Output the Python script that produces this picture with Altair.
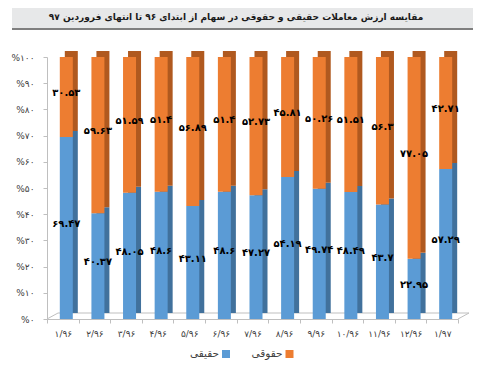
import altair as alt
import pandas as pd

categories = ["۱/۹۶", "۲/۹۶", "۳/۹۶", "۴/۹۶", "۵/۹۶", "۶/۹۶", "۷/۹۶",
              "۸/۹۶", "۹/۹۶", "۱۰/۹۶", "۱۱/۹۶", "۱۲/۹۶", "۱/۹۷"]
haghighi = [69.47, 40.37, 48.05, 48.6, 43.11, 48.6, 47.27, 54.19, 49.74, 48.49, 43.7, 22.95, 57.29]
hoghoghi = [30.53, 59.63, 51.59, 51.4, 56.89, 51.4, 52.73, 45.81, 50.26, 51.51, 56.3, 77.05, 42.71]
series = ["حقیقی", "حقوقی"]
y_tick_labels = ["%۰", "%۱۰", "%۲۰", "%۳۰", "%۴۰", "%۵۰", "%۶۰", "%۷۰", "%۸۰", "%۹۰", "%۱۰۰"]
title_text = "مقایسه ارزش معاملات حقیقی و حقوقی در سهام از ابتدای ۹۶ تا انتهای فروردین ۹۷"

FONT = "DejaVu Sans"
LIGHT = ["#5B9BD5", "#ED7D31"]
DARK = ["#41719C", "#B0591F"]
fa = str.maketrans("0123456789", "۰۱۲۳۴۵۶۷۸۹")
rows = []
for i, c in enumerate(categories):
    for o, (s, vals) in enumerate(((series[0], haghighi), (series[1], hoghoghi))):
        v = vals[i]
        rows.append({"cat": c, "series": s, "value": v, "ord": o,
                     "label": f"{v:g}".translate(fa)})
df = pd.DataFrame(rows)

W, H = 411, 262

label_arr = "[" + ",".join("'" + t + "'" for t in y_tick_labels) + "]"
x_enc = alt.X("cat:N", sort=categories, title=None,
              scale=alt.Scale(paddingInner=0, paddingOuter=0),
              axis=alt.Axis(labelAngle=0, tickBand="extent", tickSize=4,
                            domainColor="#BFBFBF", tickColor="#BFBFBF",
                            labelFont=FONT, labelFontSize=9, labelColor="#404040",
                            labelPadding=6))
y_axis = alt.Axis(values=[i / 10 for i in range(11)], grid=False,
                  labelExpr=label_arr + "[round(datum.value*10)]",
                  domainColor="#BFBFBF", tickColor="#BFBFBF", tickSize=4,
                  labelFont=FONT, labelFontSize=9, labelColor="#404040",
                  labelPadding=9)
y_scale = alt.Scale(domain=[0, 1])
light_scale = alt.Scale(domain=series, range=LIGHT)

base = alt.Chart(df).transform_stack(
    stack="value", groupby=["cat"], sort=[alt.SortField("ord", "ascending")],
    as_=["y0", "y1"], offset="normalize"
).transform_calculate(mid="(datum.y0 + datum.y1) / 2")

one = alt.Chart(pd.DataFrame({"a": [0]}))

title_bg = one.mark_rect(color="#E7E8E9").encode(
    x=alt.value(-35), x2=alt.value(426), y=alt.value(-51), y2=alt.value(-28))
title_line = one.mark_rule(color="#7F7F7F", strokeWidth=2).encode(
    x=alt.value(-35), x2=alt.value(426), y=alt.value(-28))
title = one.mark_text(text=title_text, font=FONT, fontSize=9, fontWeight="bold",
                      color="#1a1a1a").encode(x=alt.value(189), y=alt.value(-40))

floor_back = one.mark_rule(color="#BFBFBF").encode(
    x=alt.value(11), x2=alt.value(422), y=alt.value(H - 6))
floor_left = one.mark_rule(color="#BFBFBF").encode(
    x=alt.value(0), x2=alt.value(11), y=alt.value(H), y2=alt.value(H - 6))
floor_right = one.mark_rule(color="#BFBFBF").encode(
    x=alt.value(W), x2=alt.value(W + 11), y=alt.value(H), y2=alt.value(H - 6))

back = base.mark_bar(size=13, xOffset=8.5, yOffset=-6, y2Offset=-6).encode(
    x=x_enc,
    y=alt.Y("y0:Q", scale=y_scale, axis=y_axis, title=None),
    y2="y1:Q",
    color=alt.Color("series:N", sort=series, legend=None,
                    scale=alt.Scale(domain=series, range=DARK)))

front = base.mark_bar(size=13, xOffset=3.5).encode(
    x=x_enc,
    y=alt.Y("y0:Q", scale=y_scale, axis=y_axis, title=None),
    y2="y1:Q",
    color=alt.Color("series:N", sort=series, scale=light_scale, legend=None))

labels = base.mark_text(font=FONT, fontSize=10, fontWeight="bold", color="black",
                        xOffset=3.5, dy=-4).encode(
    x=x_enc,
    y=alt.Y("mid:Q", scale=y_scale, axis=y_axis, title=None),
    text="label:N")

# right-to-left legend: swatch on the right of each label
legend_layers = []
for i, s in enumerate(series):
    sx = 179 + 63.5 * i
    legend_layers.append(one.mark_square(size=64, color=LIGHT[i], opacity=1).encode(
        x=alt.value(sx), y=alt.value(H + 35)))
    legend_layers.append(one.mark_text(text=s, font=FONT, fontSize=10.5, align="right",
                                       baseline="middle", color="#404040").encode(
        x=alt.value(sx - 7), y=alt.value(H + 35)))

chart = alt.layer(
    title_bg, title_line, title, floor_back, floor_left, floor_right,
    back, front, labels, *legend_layers
).resolve_scale(color="independent").properties(
    width=W, height=H,
    autosize=alt.AutoSizeParams(type="none"),
    padding={"left": 39, "top": 49, "right": 16, "bottom": 50},
).configure_view(stroke=None)

chart.save("out.html", embed_options={"renderer": "svg", "actions": False})
